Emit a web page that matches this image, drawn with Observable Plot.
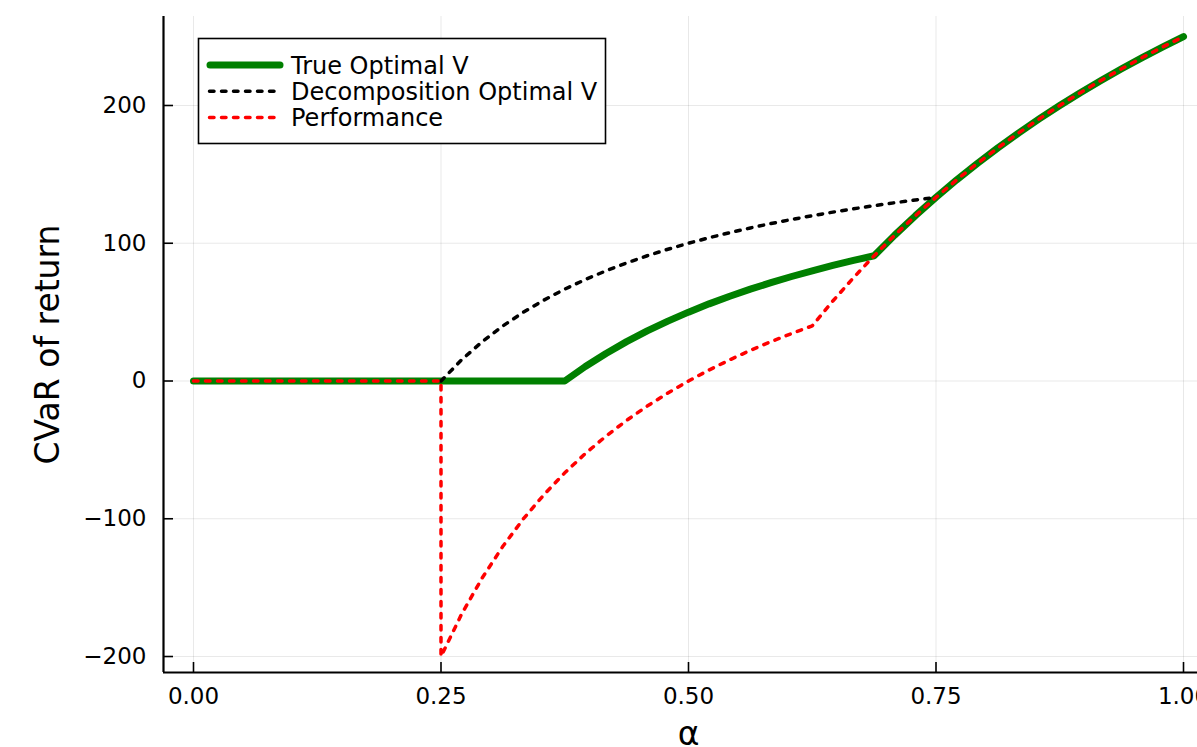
<!DOCTYPE html>
<html>
<head>
<meta charset="utf-8">
<script src="https://cdn.jsdelivr.net/npm/d3@7"></script>
<script src="https://cdn.jsdelivr.net/npm/@observablehq/plot@0.6"></script>
<style>
  html, body { margin: 0; padding: 0; background: #fff; overflow: hidden; width: 1197px; height: 747px; }
  #chart svg { max-width: none !important; }
</style>
</head>
<body>
<div id="chart"></div>
<script>
// ---- Data ----
const alphaTrue = [0, 0.375, 0.3958, 0.4167, 0.4375, 0.4583, 0.4792, 0.5, 0.5208, 0.5417, 0.5625, 0.5833, 0.6042, 0.625, 0.6458, 0.6667, 0.6875, 0.7083, 0.7292, 0.75, 0.7708, 0.7917, 0.8125, 0.8333, 0.8542, 0.875, 0.8958, 0.9167, 0.9375, 0.9583, 0.9792, 1];
const valueTrue = [0, 0, 10.53, 20.0, 28.57, 36.36, 43.48, 50.0, 56.0, 61.54, 66.67, 71.43, 75.86, 80.0, 83.87, 87.5, 90.91, 105.88, 120.0, 133.33, 145.95, 157.89, 169.23, 180.0, 190.24, 200.0, 209.3, 218.18, 226.67, 234.78, 242.55, 250.0];

const alphaDecomp = [0.25, 0.2708, 0.2917, 0.3125, 0.3333, 0.3542, 0.375, 0.3958, 0.4167, 0.4375, 0.4583, 0.4792, 0.5, 0.5208, 0.5417, 0.5625, 0.5833, 0.6042, 0.625, 0.6458, 0.6667, 0.6875, 0.7083, 0.7292, 0.75];
const valueDecomp = [0, 15.38, 28.57, 40.0, 50.0, 58.82, 66.67, 73.68, 80.0, 85.71, 90.91, 95.65, 100.0, 104.0, 107.69, 111.11, 114.29, 117.24, 120.0, 122.58, 125.0, 127.27, 129.41, 131.43, 133.33];

const alphaPerf = [0, 0.25, 0.25, 0.2708, 0.2917, 0.3125, 0.3333, 0.3542, 0.375, 0.3958, 0.4167, 0.4375, 0.4583, 0.4792, 0.5, 0.5208, 0.5417, 0.5625, 0.5833, 0.6042, 0.625, 0.6458, 0.6667, 0.6875, 0.7083, 0.7292, 0.75, 0.7708, 0.7917, 0.8125, 0.8333, 0.8542, 0.875, 0.8958, 0.9167, 0.9375, 0.9583, 0.9792, 1];
const valuePerf = [0, 0, -200, -169.23, -142.86, -120.0, -100.0, -82.35, -66.67, -52.63, -40.0, -28.57, -18.18, -8.7, 0, 8.0, 15.38, 22.22, 28.57, 34.48, 40.0, 58.06, 75.0, 90.91, 105.88, 120.0, 133.33, 145.95, 157.89, 169.23, 180.0, 190.24, 200.0, 209.3, 218.18, 226.67, 234.78, 242.55, 250.0];

const seriesNames = ["True Optimal V", "Decomposition Optimal V", "Performance"];

const xTicks = [0, 0.25, 0.5, 0.75, 1];
const xTickLabels = ["0.00", "0.25", "0.50", "0.75", "1.00"];
const yTicks = [-200, -100, 0, 100, 200];
const yTickLabels = ["\u2212200", "\u2212100", "0", "100", "200"];

const xLabel = "\u03b1";
const yLabel = "CVaR of return";

// ---- Chart ----
const xMin = -0.0303, xMax = 1.0303;
const yMin = -211.6, yMax = 264.6;
const rows = (a, v) => a.map((x, i) => ({alpha: x, value: v[i]}));
const font = "DejaVu Sans";
const dash = "4.5,7.5";

const plot = Plot.plot({
  width: 1230,
  height: 747,
  marginLeft: 163,
  marginRight: 17,
  marginTop: 16,
  marginBottom: 75,
  x: {domain: [xMin, xMax]},
  y: {domain: [yMin, yMax]},
  style: {fontFamily: font, color: "black", background: "white", overflow: "visible"},
  marks: [
    Plot.gridX(xTicks, {stroke: "black", strokeOpacity: 0.09, strokeWidth: 1}),
    Plot.gridY(yTicks, {stroke: "black", strokeOpacity: 0.09, strokeWidth: 1}),
    Plot.tickX(xTicks, {stroke: "black", strokeWidth: 1.6, insetTop: 646}),
    Plot.tickY(yTicks, {stroke: "black", strokeWidth: 1.6, insetRight: 1040}),
    Plot.axisX({ticks: xTicks, tickSize: 0, tickPadding: 15, fontSize: 23, label: null,
      tickFormat: d => xTickLabels[xTicks.indexOf(d)]}),
    Plot.axisY({ticks: yTicks, tickSize: 0, tickPadding: 17, fontSize: 23, label: null,
      tickFormat: d => yTickLabels[yTicks.indexOf(d)]}),
    Plot.ruleX([xMin], {stroke: "black", strokeWidth: 2.2}),
    Plot.ruleY([yMin], {stroke: "black", strokeWidth: 2.2}),
    Plot.line(rows(alphaTrue, valueTrue), {x: "alpha", y: "value", stroke: "#008000", strokeWidth: 7, strokeLinecap: "round", strokeLinejoin: "round"}),
    Plot.line(rows(alphaDecomp, valueDecomp), {x: "alpha", y: "value", stroke: "black", strokeWidth: 3.5, strokeDasharray: dash, strokeLinecap: "round", strokeLinejoin: "round"}),
    Plot.line(rows(alphaPerf, valuePerf), {x: "alpha", y: "value", stroke: "#ff0000", strokeWidth: 3.5, strokeDasharray: dash, strokeLinecap: "round", strokeLinejoin: "round"}),
    Plot.text([yLabel], {text: d => d, frameAnchor: "left", textAnchor: "middle", lineAnchor: "middle", rotate: -90, dx: -115, fontSize: 33, fill: "black"}),
    Plot.text([xLabel], {text: d => d, frameAnchor: "bottom", textAnchor: "middle", lineAnchor: "middle", dy: 62, fontSize: 33, fill: "black"})
  ]
});
plot.style.maxWidth = "none";
document.getElementById("chart").appendChild(plot);

// ---- Legend ----
const lg = d3.select(plot).append("g").attr("font-family", font).attr("font-size", 24).attr("text-anchor", "start");
lg.append("rect").attr("x", 198.5).attr("y", 38.5).attr("width", 407).attr("height", 105)
  .attr("fill", "white").attr("stroke", "black").attr("stroke-width", 1.6);
const legendStyles = [
  {stroke: "#008000", width: 7, dash: null, x1: 210, x2: 280},
  {stroke: "black", width: 3.5, dash: dash, x1: 209.5, x2: 276},
  {stroke: "#ff0000", width: 3.5, dash: dash, x1: 209.5, x2: 276}
];
seriesNames.forEach((name, i) => {
  const cy = 65 + i * 26.2;
  const s = legendStyles[i];
  const ln = lg.append("line").attr("x1", s.x1).attr("x2", s.x2).attr("y1", cy).attr("y2", cy)
    .attr("stroke", s.stroke).attr("stroke-width", s.width).attr("stroke-linecap", "round");
  if (s.dash) ln.attr("stroke-dasharray", s.dash);
  lg.append("text").attr("x", 291).attr("y", cy + 9).attr("text-anchor", "start").attr("fill", "black").text(name);
});
</script>
</body>
</html>
